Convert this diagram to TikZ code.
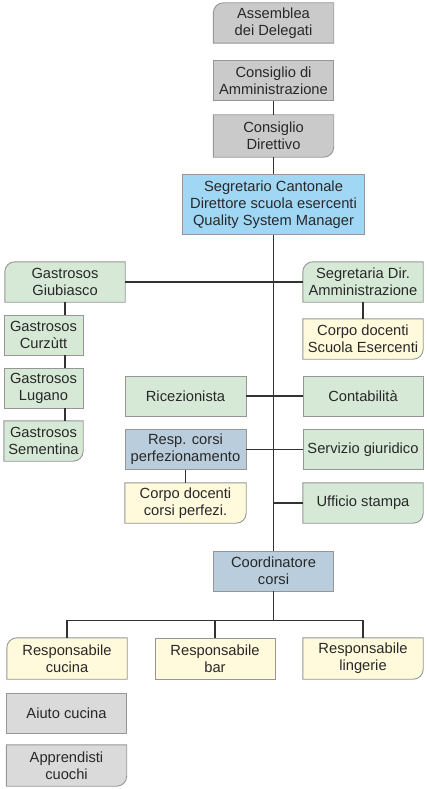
\documentclass[tikz,border=0pt]{standalone}
\usepackage{fontspec}
\setmainfont{Liberation Sans}
\usepackage{tikz}
\usetikzlibrary{
  positioning,
  calc
}
\definecolor{boxgray}{RGB}{202,202,202}
\definecolor{palegray}{RGB}{218,218,218}
\definecolor{skyblue}{RGB}{160,215,245}
\definecolor{sage}{RGB}{214,233,214}
\definecolor{slate}{RGB}{185,205,220}
\definecolor{cream}{RGB}{255,250,220}
\definecolor{edgegray}{RGB}{150,150,150}
\definecolor{linegray}{RGB}{50,50,50}
\definecolor{textgray}{RGB}{40,40,40}
\newcommand{\orgfont}{\fontsize{14.7}{17}\selectfont}

\pgfdeclarelayer{back}
\pgfsetlayers{back,main}

\tikzset{
  unit/.style={minimum width=120pt, minimum height=40pt, inner sep=0pt, align=center, text=textgray, font=\orgfont},
  plain/.style={unit, draw=edgegray, line width=0.9pt},
  open/.style={unit},
  link/.style={draw=linegray, line width=1.1pt}
}

% box with the top left corner rounded
\newcommand{\cornertl}[2]{%
  \begin{pgfonlayer}{back}
    \filldraw[fill=#2, draw=edgegray, line width=0.9pt]
      (#1.south west) -- ([yshift=-10pt]#1.north west)
      .. controls ([yshift=-4.5pt]#1.north west) and ([xshift=4.5pt]#1.north west) .. ([xshift=10pt]#1.north west)
      -- (#1.north east) -- (#1.south east) -- cycle;
  \end{pgfonlayer}}
% box with the bottom right corner rounded
\newcommand{\cornerbr}[2]{%
  \begin{pgfonlayer}{back}
    \filldraw[fill=#2, draw=edgegray, line width=0.9pt]
      (#1.north west) -- (#1.north east) -- ([yshift=10pt]#1.south east)
      .. controls ([yshift=4.5pt]#1.south east) and ([xshift=-4.5pt]#1.south east) .. ([xshift=-10pt]#1.south east)
      -- (#1.south west) -- cycle;
  \end{pgfonlayer}}

\begin{document}
\begin{tikzpicture}[x=1pt, y=-1pt]
  \useasboundingbox (0,0) rectangle (427,789);

  % governing bodies
  \node[open] (assemblea) at (273.5,23) {Assemblea\\dei Delegati};
  \node[plain, fill=boxgray] (cda) at (273.5,80.5) {Consiglio di\\Amministrazione};
  \node[open, minimum height=42pt] (direttivo) at (273.5,136) {Consiglio\\Direttivo};
  \node[plain, fill=skyblue, minimum width=182pt, minimum height=60pt] (segretario) at (273.5,204.5) {Segretario Cantonale\\Direttore scuola esercenti\\Quality System Manager};
  \cornertl{assemblea}{boxgray}
  \cornerbr{direttivo}{boxgray}

  % sections
  \node[open] (giubiasco) at (65,282) {Gastrosos\\Giubiasco};
  \node[plain, fill=sage, minimum width=79pt] (curzutt) at (43.5,335) {Gastrosos\\Curzùtt};
  \node[plain, fill=sage, minimum width=79pt] (lugano) at (43.5,388) {Gastrosos\\Lugano};
  \node[open, minimum width=79pt] (sementina) at (43.5,441) {Gastrosos\\Sementina};
  \cornertl{giubiasco}{sage}
  \cornerbr{sementina}{sage}

  \node[open] (segretaria) at (363,282) {Segretaria Dir.\\Amministrazione};
  \node[open] (docscuola) at (363,339) {Corpo docenti\\Scuola Esercenti};
  \cornertl{segretaria}{sage}
  \cornerbr{docscuola}{cream}

  % offices
  \node[plain, fill=sage, minimum width=121pt] (ricezionista) at (185.5,396) {Ricezionista};
  \node[plain, fill=slate, minimum width=121pt] (respcorsi) at (185.5,449.5) {Resp. corsi\\perfezionamento};
  \node[open, minimum width=121pt] (doccorsi) at (185.5,503) {Corpo docenti\\corsi perfezi.};
  \cornerbr{doccorsi}{cream}

  \node[plain, fill=sage] (contabilita) at (363,396) {Contabilità};
  \node[plain, fill=sage] (giuridico) at (363,449.5) {Servizio giuridico};
  \node[open] (ufficio) at (363,503) {Ufficio stampa};
  \cornerbr{ufficio}{sage}

  % courses
  \node[plain, fill=slate] (coordinatore) at (273.5,571) {Coordinatore\\corsi};
  \node[open, minimum height=41pt] (cucina) at (67,658.5) {Responsabile\\cucina};
  \node[plain, fill=cream, minimum height=41pt] (bar) at (215,658.5) {Responsabile\\bar};
  \node[open, minimum height=41pt] (lingerie) at (363,658.5) {Responsabile\\lingerie};
  \cornertl{cucina}{cream}
  \cornerbr{lingerie}{cream}

  \node[plain, fill=palegray] (aiuto) at (66.5,713) {Aiuto cucina};
  \node[open, minimum height=41pt] (apprendisti) at (66.5,765.5) {Apprendisti\\cuochi};
  \cornerbr{apprendisti}{palegray}

  % connectors
  \draw[link] (cda) -- (direttivo);
  \draw[link] (direttivo) -- (segretario);
  \draw[link] (segretario) -- (coordinatore);
  \draw[link] (giubiasco) -- (segretaria);
  \draw[link] (giubiasco.south) -- (giubiasco.south |- curzutt.north);
  \draw[link] (giubiasco.south |- curzutt.south) -- (giubiasco.south |- lugano.north);
  \draw[link] (giubiasco.south |- lugano.south) -- (giubiasco.south |- sementina.north);
  \draw[link] (segretaria) -- (docscuola);
  \draw[link] (ricezionista) -- (contabilita);
  \draw[link] (respcorsi) -- (giuridico);
  \draw[link] (respcorsi) -- (doccorsi);
  \draw[link] (ufficio.west) -- (ufficio.west -| segretario.south);
  \draw[link] (coordinatore.south) -- ++(0,29) coordinate (bus);
  \draw[link] (cucina.north) |- (bus) -| (lingerie.north);
  \draw[link] (bar.north) -- (bar.north |- bus);
\end{tikzpicture}
\end{document}
